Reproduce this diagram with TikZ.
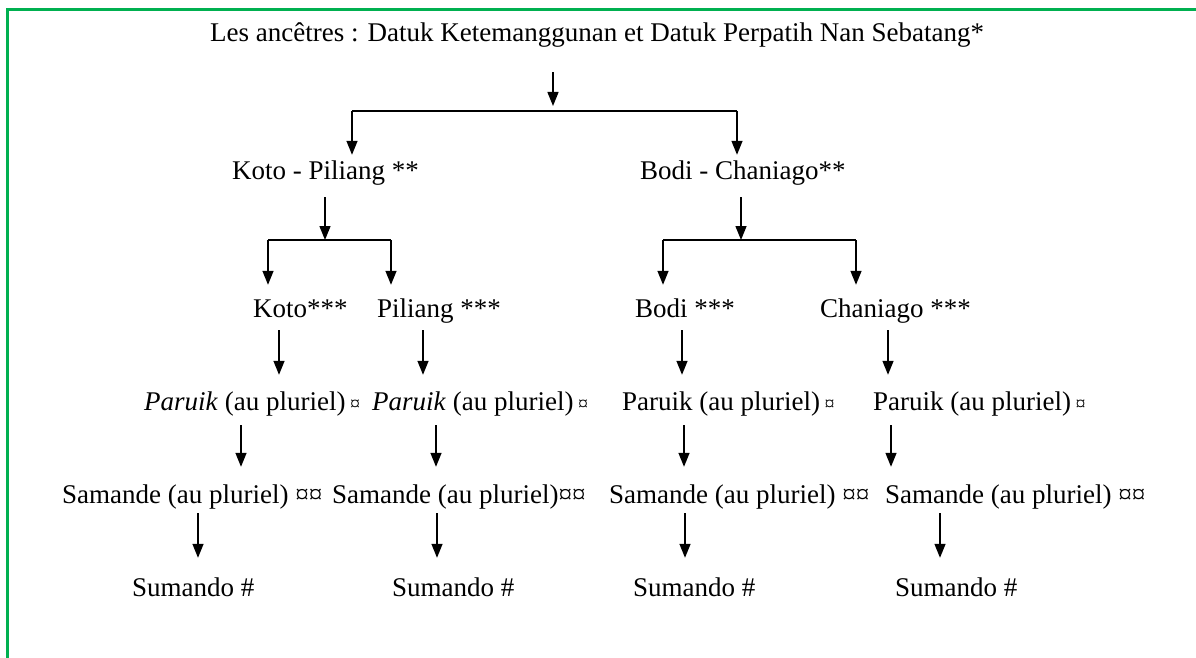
\documentclass[tikz,border=0pt]{standalone}
\usepackage{fontspec}
\setmainfont{Liberation Serif}
\usetikzlibrary{arrows.meta}
\definecolor{frame}{HTML}{00B050}
\newcommand{\cur}{{\fontsize{20}{22}\selectfont ¤}}

\begin{document}
\begin{tikzpicture}[x=1pt, y=-1pt,
  every node/.style={font=\fontsize{27}{32}\selectfont, inner sep=0pt,
    text height=20pt, text depth=7pt, anchor=base west},
  arr/.style={-{Triangle[width=11pt,length=14pt]}, line width=1.4pt},
  link/.style={line width=1.4pt}]

\useasboundingbox (0,0) rectangle (1196,658);
\clip (0,0) rectangle (1196,658);
\draw[frame, line width=3pt] (7,700) -- (7,10) -- (1250,10);

% --- text ---
\node (title) at (210,42) {Les ancêtres : Datuk Ketemanggunan et Datuk Perpatih Nan Sebatang*};

\node (kp) at (232,179) {Koto - Piliang **};
\node (bc) at (640,179) {Bodi - Chaniago**};

\node (koto) at (253,317) {Koto***};
\node (pil)  at (377,317) {Piliang ***};
\node (bodi) at (635,317) {Bodi ***};
\node (chan) at (820,317) {Chaniago ***};

\node (paA) at (144,410) {\textit{Paruik} (au pluriel)\,\cur};
\node (paB) at (372,410) {\textit{Paruik} (au pluriel)\,\cur};
\node (paC) at (622,410) {Paruik (au pluriel)\,\cur};
\node (paD) at (873,410) {Paruik (au pluriel)\,\cur};

\node (saA) at (62,503)  {Samande (au pluriel) ¤¤};
\node (saB) at (332,503) {Samande (au pluriel)¤¤};
\node (saC) at (609,503) {Samande (au pluriel) ¤¤};
\node (saD) at (885,503) {Samande (au pluriel) ¤¤};

\node (suA) at (132,596) {Sumando \#};
\node (suB) at (392,596) {Sumando \#};
\node (suC) at (633,596) {Sumando \#};
\node (suD) at (895,596) {Sumando \#};

% --- branch points ---
\coordinate (top) at (553,111);
\coordinate (sL) at (352,111);
\coordinate (sR) at (737,111);
\coordinate (kpj) at (325,240);
\coordinate (kpL) at (268,240);
\coordinate (kpR) at (391,240);
\coordinate (bcj) at (741,240);
\coordinate (bcL) at (663,240);
\coordinate (bcR) at (856,240);

\draw[arr, shorten <=23pt, shorten >=5pt] (title.south -| top) -- (top);
\draw[link] (sL) -- (sR);
\draw[arr, shorten >=4pt] (sL) -- (sL |- kp.north);
\draw[arr, shorten >=4pt] (sR) -- (sR |- bc.north);

\draw[arr, shorten <=11pt] (kp.south -| kpj) -- (kpj);
\draw[link] (kpL) -- (kpR);
\draw[arr, shorten >=12pt] (kpL) -- (kpL |- koto.north);
\draw[arr, shorten >=12pt] (kpR) -- (kpR |- pil.north);

\draw[arr, shorten <=11pt] (bc.south -| bcj) -- (bcj);
\draw[link] (bcL) -- (bcR);
\draw[arr, shorten >=12pt] (bcL) -- (bcL |- bodi.north);
\draw[arr, shorten >=12pt] (bcR) -- (bcR |- chan.north);

% --- columns ---
\coordinate (a1) at (279,0);
\coordinate (a2) at (423,0);
\coordinate (a3) at (682,0);
\coordinate (a4) at (888,0);
\coordinate (b1) at (241,0);
\coordinate (b2) at (436,0);
\coordinate (b3) at (684,0);
\coordinate (b4) at (891,0);
\coordinate (d1) at (198,0);
\coordinate (d2) at (437,0);
\coordinate (d3) at (685,0);
\coordinate (d4) at (940,0);

\draw[arr, shorten <=6pt, shorten >=15pt] (koto.south -| a1) -- (paA.north -| a1);
\draw[arr, shorten <=6pt, shorten >=15pt] (pil.south -| a2) -- (paB.north -| a2);
\draw[arr, shorten <=6pt, shorten >=15pt] (bodi.south -| a3) -- (paC.north -| a3);
\draw[arr, shorten <=6pt, shorten >=15pt] (chan.south -| a4) -- (paD.north -| a4);

\draw[arr, shorten <=8pt, shorten >=16pt] (paA.south -| b1) -- (saA.north -| b1);
\draw[arr, shorten <=8pt, shorten >=16pt] (paB.south -| b2) -- (saB.north -| b2);
\draw[arr, shorten <=8pt, shorten >=16pt] (paC.south -| b3) -- (saC.north -| b3);
\draw[arr, shorten <=8pt, shorten >=16pt] (paD.south -| b4) -- (saD.north -| b4);

\draw[arr, shorten <=3pt, shorten >=18pt] (saA.south -| d1) -- (suA.north -| d1);
\draw[arr, shorten <=3pt, shorten >=18pt] (saB.south -| d2) -- (suB.north -| d2);
\draw[arr, shorten <=3pt, shorten >=18pt] (saC.south -| d3) -- (suC.north -| d3);
\draw[arr, shorten <=3pt, shorten >=18pt] (saD.south -| d4) -- (suD.north -| d4);

\end{tikzpicture}
\end{document}
